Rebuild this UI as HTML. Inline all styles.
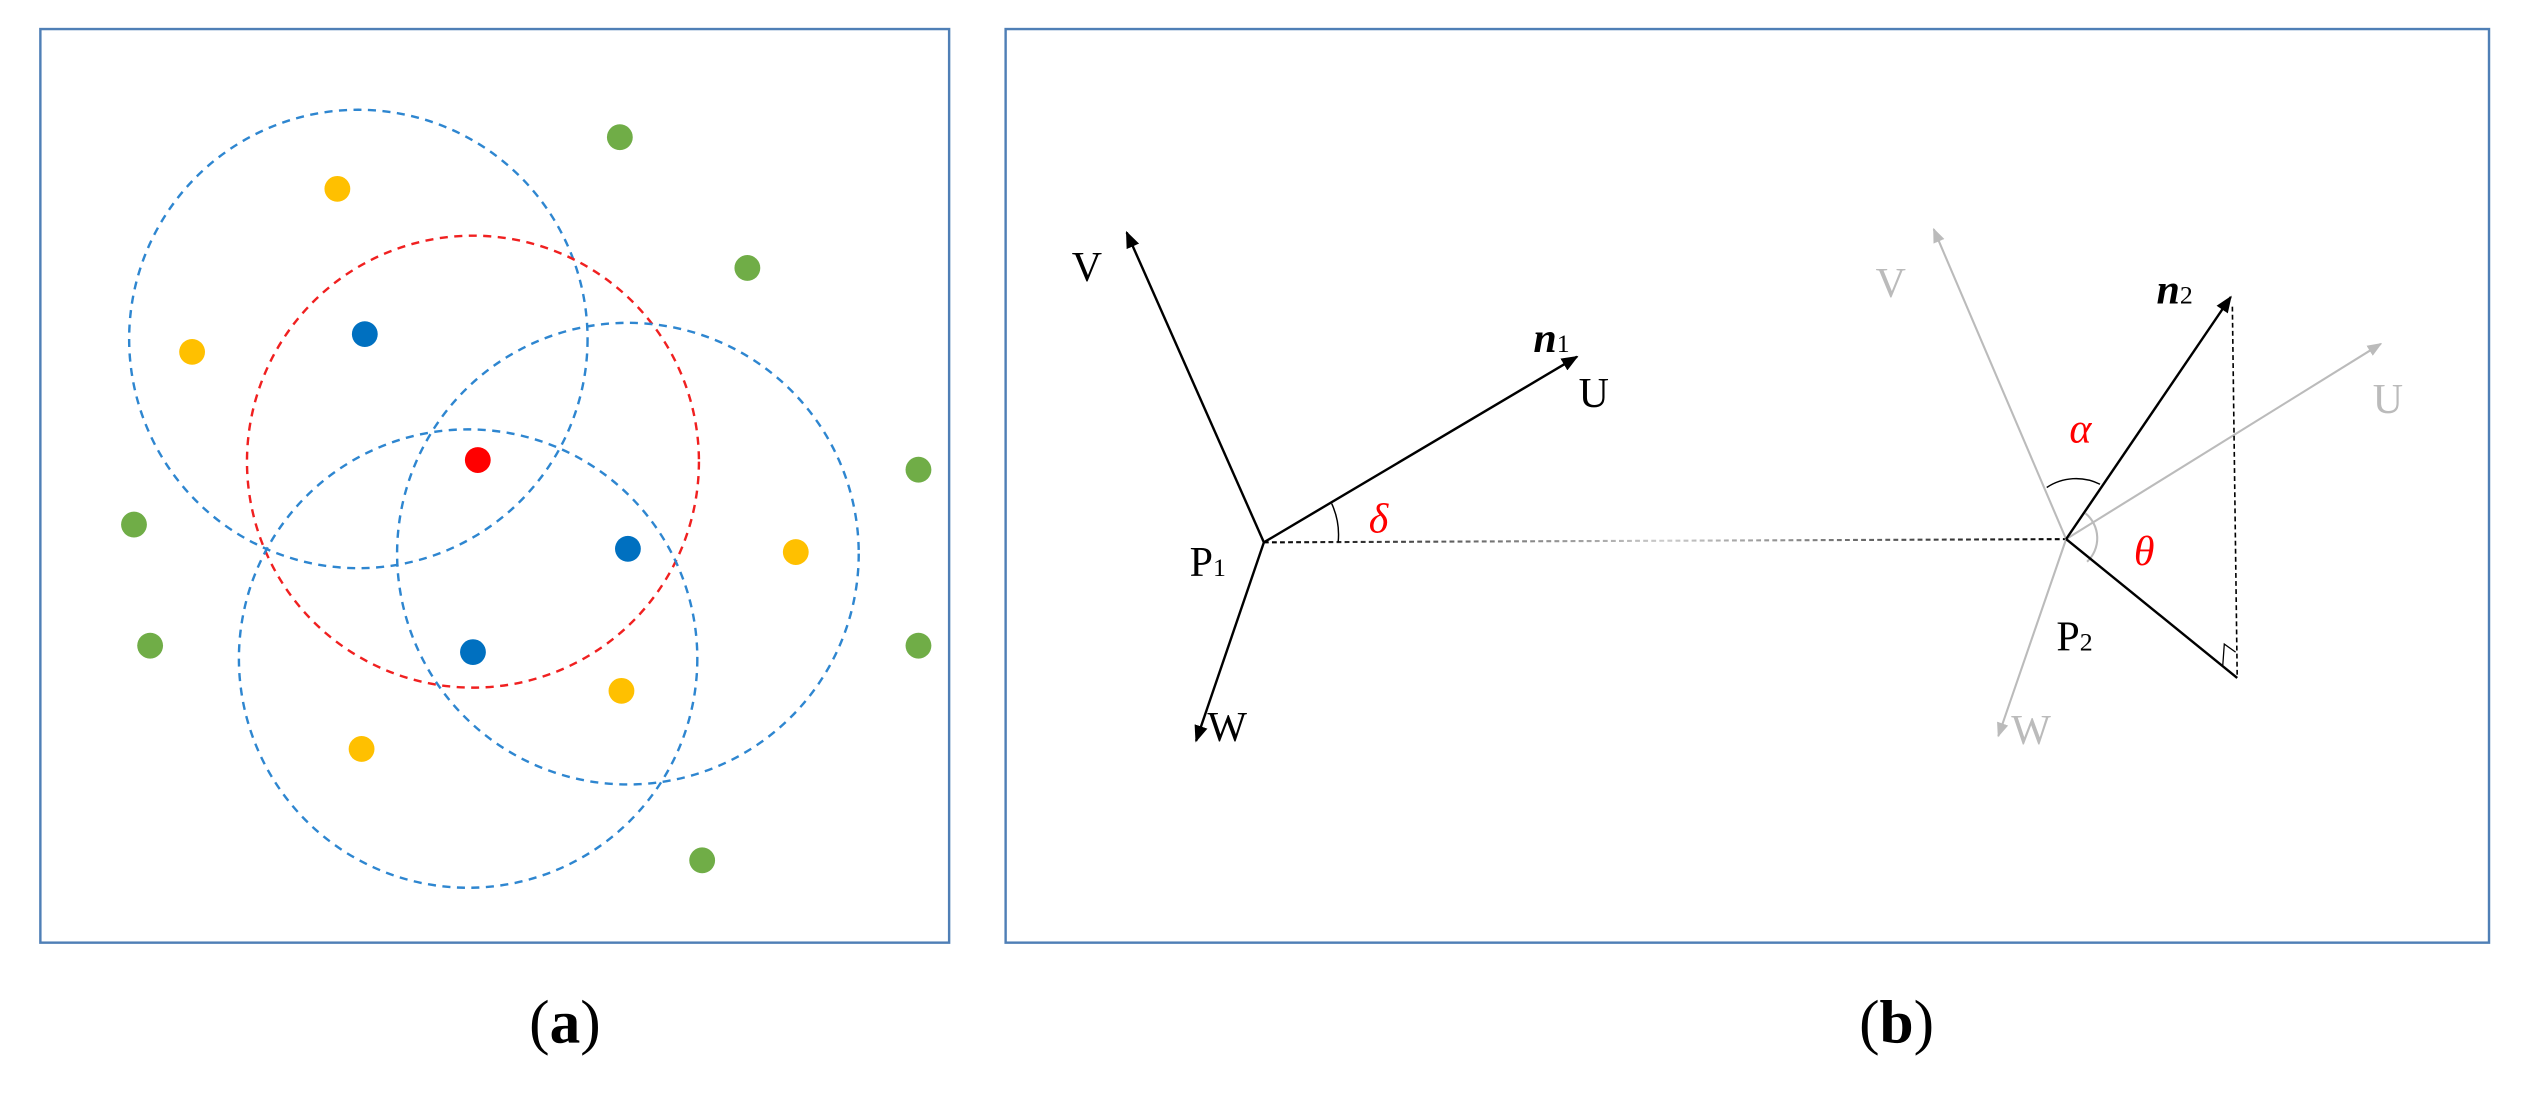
<!DOCTYPE html>
<html><head><meta charset="utf-8"><style>html,body{margin:0;padding:0;background:#fff}svg{display:block}</style></head>
<body>
<svg width="2531" height="1096" viewBox="0 0 1568 679" xmlns="http://www.w3.org/2000/svg">
<defs>
<marker id="ab" viewBox="0 0 10 10" refX="9" refY="5" markerWidth="7" markerHeight="7" orient="auto"><path d="M0,1 L10,5 L0,9 z" fill="#000"/></marker>
<marker id="ag" viewBox="0 0 10 10" refX="9" refY="5" markerWidth="7" markerHeight="7" orient="auto"><path d="M0,1 L10,5 L0,9 z" fill="#bbb"/></marker>
<linearGradient id="fade" x1="783" y1="0" x2="1280" y2="0" gradientUnits="userSpaceOnUse">
<stop offset="0" stop-color="#000"/><stop offset="0.5" stop-color="#ccc"/><stop offset="1" stop-color="#000"/></linearGradient>
</defs>
<!-- panel a -->
<rect x="25" y="18" width="563" height="566" fill="none" stroke="#4f7fb6" stroke-width="1.5"/>
<g fill="none" stroke-width="1.5" stroke-dasharray="5,4">
<circle cx="222" cy="210" r="142" stroke="#2e86d0"/>
<circle cx="293" cy="286" r="140" stroke="#f02020"/>
<circle cx="389" cy="343" r="143" stroke="#2e86d0"/>
<circle cx="290" cy="408" r="142" stroke="#2e86d0"/>
</g>
<g fill="#ffc000"><circle cx="209" cy="117" r="8"/><circle cx="119" cy="218" r="8"/><circle cx="493" cy="342" r="8"/><circle cx="385" cy="428" r="8"/><circle cx="224" cy="464" r="8"/></g>
<g fill="#0070c0"><circle cx="226" cy="207" r="8"/><circle cx="389" cy="340" r="8"/><circle cx="293" cy="404" r="8"/></g>
<circle cx="296" cy="285" r="8" fill="#ff0000"/>
<g fill="#70ad47"><circle cx="384" cy="85" r="8"/><circle cx="463" cy="166" r="8"/><circle cx="569" cy="291" r="8"/><circle cx="83" cy="325" r="8"/><circle cx="93" cy="400" r="8"/><circle cx="569" cy="400" r="8"/><circle cx="435" cy="533" r="8"/></g>
<text x="350" y="646" font-family="Liberation Serif, serif" font-size="38" text-anchor="middle">(<tspan font-weight="bold">a</tspan>)</text>
<!-- panel b -->
<rect x="623" y="18" width="919" height="566" fill="none" stroke="#4f7fb6" stroke-width="1.5"/>
<line x1="783" y1="336" x2="1280" y2="334" stroke="url(#fade)" stroke-width="1.3" stroke-dasharray="3,2"/>
<g stroke="#bbb" stroke-width="1.3" fill="none">
<line x1="1280" y1="334" x2="1198" y2="142" marker-end="url(#ag)"/>
<line x1="1280" y1="334" x2="1238" y2="456" marker-end="url(#ag)"/>
<line x1="1280" y1="334" x2="1475" y2="213" marker-end="url(#ag)"/>
<path d="M1292 318 A20 20 0 0 1 1293 348"/>
</g>
<g stroke="#000" stroke-width="1.5" fill="none">
<line x1="783" y1="336" x2="698" y2="144" marker-end="url(#ab)"/>
<line x1="783" y1="336" x2="741" y2="459" marker-end="url(#ab)"/>
<line x1="783" y1="336" x2="977" y2="221" marker-end="url(#ab)"/>
<line x1="1280" y1="334" x2="1382" y2="184" marker-end="url(#ab)"/>
<line x1="1280" y1="334" x2="1386" y2="420"/>
<line x1="1383" y1="190" x2="1386" y2="420" stroke-width="1" stroke-dasharray="3,2"/>
<path d="M1377 413 L1378 399 L1385 404" stroke-width="0.8"/>
<path d="M825 312 A46 46 0 0 1 829 336" stroke-width="0.9"/>
<path d="M1268 302 A33 33 0 0 1 1301 300" stroke-width="0.9"/>
</g>
<g font-family="Liberation Serif, serif" font-size="26">
<text x="664" y="174">V</text>
<text x="748" y="459">W</text>
<text x="978" y="252">U</text>
<text x="950" y="218" font-weight="bold" font-style="italic">n<tspan font-size="16" font-weight="normal" font-style="normal">1</tspan></text>
<text x="737" y="357">P<tspan font-size="16">1</tspan></text>
<text x="1162" y="184" fill="#bbb">V</text>
<text x="1246" y="461" fill="#bbb">W</text>
<text x="1470" y="256" fill="#bbb">U</text>
<text x="1336" y="188" font-weight="bold" font-style="italic">n<tspan font-size="16" font-weight="normal" font-style="normal">2</tspan></text>
<text x="1274" y="403">P<tspan font-size="16">2</tspan></text>
<text x="848" y="330" fill="#ff0000" font-style="italic">δ</text>
<text x="1282" y="274" fill="#ff0000" font-style="italic">α</text>
<text x="1322" y="350" fill="#ff0000" font-style="italic">θ</text>
</g>
<text x="1175" y="646" font-family="Liberation Serif, serif" font-size="38" text-anchor="middle">(<tspan font-weight="bold">b</tspan>)</text>
</svg>
</body></html>
